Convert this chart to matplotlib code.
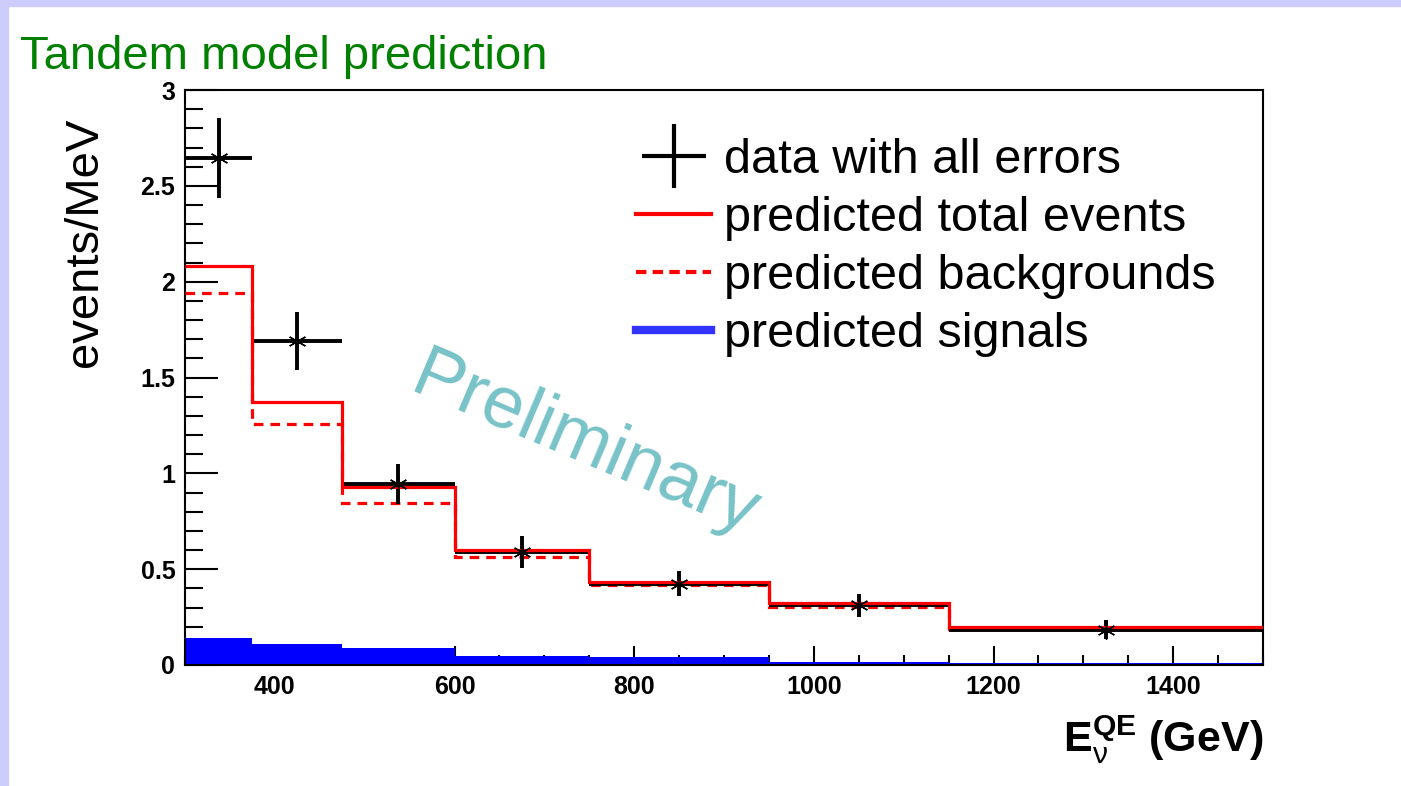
import numpy as np
import matplotlib
matplotlib.use('Agg')
import matplotlib.pyplot as plt
from matplotlib.lines import Line2D
from matplotlib.patches import Rectangle
from matplotlib.ticker import MultipleLocator, FuncFormatter

plt.rcParams['font.family'] = ['Liberation Sans', 'DejaVu Sans']
plt.rcParams['mathtext.fontset'] = 'custom'
plt.rcParams['mathtext.rm'] = 'Liberation Sans:bold'
plt.rcParams['mathtext.bf'] = 'Liberation Sans:bold'
plt.rcParams['mathtext.it'] = 'Liberation Sans'

# bin edges (x) and histogram contents (events/MeV)
edges = np.array([300, 375, 475, 600, 750, 950, 1150, 1500])
total = np.array([2.08, 1.37, 0.93, 0.60, 0.435, 0.322, 0.20])
backgrounds = np.array([1.94, 1.26, 0.845, 0.565, 0.415, 0.305, 0.19])
signals = np.array([0.142, 0.111, 0.09, 0.047, 0.040, 0.017, 0.009])
data = np.array([2.645, 1.69, 0.945, 0.59, 0.425, 0.313, 0.185])
data_err = np.array([0.21, 0.15, 0.105, 0.085, 0.065, 0.06, 0.05])

legend_labels = ['data with all errors', 'predicted total events',
                 'predicted backgrounds', 'predicted signals']

W, H = 1401, 786
fig = plt.figure(figsize=(W / 100, H / 100), dpi=100)
fig.patch.set_facecolor('white')

# lavender slide frame
lav = '#ccccff'
fig.add_artist(Rectangle((0, 1 - 6 / H), 1, 6 / H, transform=fig.transFigure,
                         color=lav, zorder=0))
fig.add_artist(Rectangle((0, 0), 8 / W, 1, transform=fig.transFigure,
                         color=lav, zorder=0))

ax = fig.add_axes([185 / W, 1 - 665 / H, (1263 - 185) / W, (665 - 90) / H])

centers = 0.5 * (edges[:-1] + edges[1:])
halfw = 0.5 * np.diff(edges)

# signal (filled)
ax.stairs(signals, edges, fill=True, color='#0000ff', zorder=2)
# backgrounds dashed
ax.stairs(backgrounds, edges, baseline=None, color='red', lw=2.3,
          ls=(0, (3, 2.2)), zorder=3)
# data
ax.errorbar(centers, data, xerr=halfw, yerr=data_err, fmt='none',
            ecolor='black', elinewidth=2.8, capsize=0, zorder=4)
# total predicted
ax.stairs(total, edges, baseline=None, color='red', lw=2.3, zorder=5)
ax.plot(centers, data, ls='none', marker=(6, 2, 0), ms=13, mew=1.0,
        color='black', zorder=6)
ax.plot(centers, data, ls='none', marker='o', ms=3.5, color='black', zorder=6)

ax.set_xlim(300, 1500)
ax.set_ylim(0, 3)

ax.xaxis.set_major_locator(MultipleLocator(200))
ax.xaxis.set_minor_locator(MultipleLocator(50))
ax.yaxis.set_major_locator(MultipleLocator(0.5))
ax.yaxis.set_minor_locator(MultipleLocator(0.1))
ax.yaxis.set_major_formatter(FuncFormatter(lambda v, p: f'{v:g}'))

ax.tick_params(axis='both', which='both', direction='in', top=False, right=False,
               width=1.5, labelsize=18)
ax.tick_params(axis='y', which='major', length=24, pad=7)
ax.tick_params(axis='y', which='minor', length=13)
ax.tick_params(axis='x', which='major', length=13.5, pad=7)
ax.tick_params(axis='x', which='minor', length=7)
for lab in ax.get_xticklabels() + ax.get_yticklabels():
    lab.set_fontweight('bold')
for sp in ax.spines.values():
    sp.set_linewidth(1.5)

handles = [
    Line2D([], [], ls='none', marker='+', ms=46, mew=3, color='black'),
    Line2D([], [], color='red', lw=3),
    Line2D([], [], color='red', lw=3, ls=(0, (2.5, 1.5))),
    Line2D([], [], color='#3333ff', lw=6),
]
ax.legend(handles, legend_labels, loc='upper left',
          bbox_to_anchor=(636 / W, 1 - 138 / H), bbox_transform=fig.transFigure,
          frameon=False, fontsize=35, handlelength=1.55, handletextpad=0.25,
          labelspacing=0.27, borderaxespad=0, borderpad=0)

fig.text(20 / W, 1 - 69 / H, 'Tandem model prediction', color='#008000',
         fontsize=34, ha='left', va='baseline')
fig.text(85 / W, 1 - 242 / H, 'events/MeV', rotation=90, fontsize=34,
         ha='center', va='center')
fig.text(1263 / W, 1 - 752 / H, r'$\mathbf{E}_{\nu}^{\mathbf{QE}}$ (GeV)',
         fontsize=31, fontweight='bold', ha='right', va='baseline')
fig.text(585 / W, 1 - 445 / H, 'Preliminary', rotation=-23, fontsize=53,
         color='#78c3c8', ha='center', va='center', zorder=10)

fig.savefig('out.png', dpi=100)
